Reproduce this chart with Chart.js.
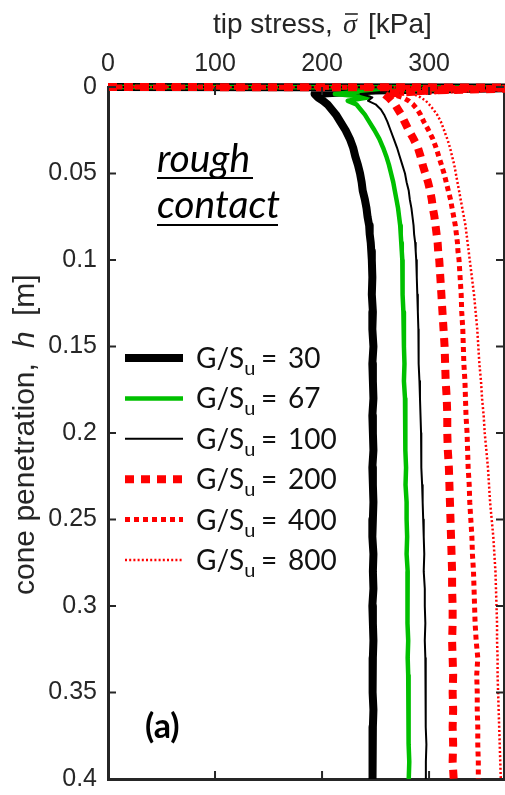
<!DOCTYPE html>
<html>
<head>
<meta charset="utf-8">
<script src="https://cdn.jsdelivr.net/npm/chart.js@4.4.1/dist/chart.umd.min.js"></script>
<style>
  html, body { margin: 0; padding: 0; background: #ffffff; }
  canvas { display: block; }
</style>
</head>
<body>
<canvas id="tipChart" width="505" height="795" style="width:505px;height:795px"></canvas>
<script>
// Cone penetration h [m] at which tip stress was sampled
const depth = [0, 0.0003, 0.002, 0.004, 0.006, 0.008, 0.010, 0.013, 0.016, 0.020,
  0.025, 0.030, 0.035, 0.040, 0.045, 0.050, 0.055, 0.060, 0.065, 0.070,
  0.075, 0.080, 0.085, 0.090, 0.095, 0.100,
  0.11, 0.12, 0.13, 0.14, 0.15, 0.16, 0.17, 0.18, 0.19, 0.20,
  0.21, 0.22, 0.23, 0.24, 0.25, 0.26, 0.27, 0.28, 0.29, 0.30,
  0.31, 0.32, 0.33, 0.34, 0.35, 0.36, 0.37, 0.38, 0.39, 0.40];

// Tip stress [kPa] for each stiffness ratio G/Su
const stressG30 = [0, 420, 250, 193, 196, 201, 205, 209, 213, 217,
  222, 226, 229, 231, 233.5, 235.5, 237, 238, 240, 241.5,
  242.5, 244, 244.5, 245.5, 246, 246.5,
  247, 246.5, 247.5, 247, 248, 247, 247.5, 248, 247, 247.5,
  248, 247, 247.5, 248, 247.5, 247, 248, 247.5, 248, 247,
  247.5, 248, 247.5, 247, 247.5, 248, 247.5, 247, 247.5, 247];
const stressG67 = [0, 420, 245, 212, 244, 224, 232, 236, 240, 244,
  249, 253.5, 257, 260, 262.5, 264.5, 266.5, 268, 269.5, 271,
  272, 273, 273.5, 274, 274.5, 275,
  275.5, 275, 276, 276.5, 276.5, 277, 276.5, 277.5, 277.5, 278,
  278, 278.5, 278, 279, 279, 279.5, 279, 280, 279.5, 280,
  280, 280.5, 280, 280.5, 281, 280.5, 281, 281, 281.5, 281];
const stressG100 = [0, 420, 270, 236, 247, 243, 250, 255, 258, 261,
  264, 267, 270, 272.5, 275, 277.5, 279, 281, 282, 283.5,
  284.5, 285.5, 286, 287, 287.5, 288,
  288.5, 289, 289.5, 290, 290.5, 290, 291, 291.5, 292, 292.5,
  293, 292.5, 293.5, 294, 294.5, 295, 295.5, 295, 296, 296,
  296.5, 296, 296.5, 297, 296.5, 297, 297, 297.5, 297, 297];
const stressG200 = [0, 420, 300, 258, 262, 265, 268, 271, 274, 277,
  281, 285.5, 289.5, 292, 294, 296.5, 299, 301, 302.5, 303.5,
  305, 306, 307, 308, 308.5, 309.5,
  310.5, 311.5, 312.5, 313.5, 314.5, 315, 315.5, 316.5, 317, 317,
  317.5, 318.5, 319, 319.5, 320, 320.5, 321, 321.5, 321.5, 322,
  322, 321.5, 322, 322.5, 322, 322.5, 322, 322.5, 322, 323];
const stressG400 = [0, 420, 330, 265, 275, 281, 285, 289, 292, 295,
  299.5, 303.5, 306.5, 309, 311.5, 314, 316, 318, 320, 321.5,
  323, 324.5, 325.5, 326.5, 327, 328,
  329, 330, 330.5, 331.5, 332, 332.5, 333.5, 334, 334.5, 335.5,
  336, 336.5, 337.5, 338, 339, 340, 340.5, 341.5, 342, 342.5,
  343, 344, 345.5, 344.5, 345, 345, 345.5, 345.5, 346, 346];
const stressG800 = [0, 420, 360, 285, 292, 297, 300, 304, 307.5, 311,
  314, 317, 319.5, 321.5, 323.5, 325, 326.5, 328, 329.5, 331,
  332.5, 334, 335, 336, 337, 338,
  340, 342, 343.5, 345, 346, 347, 348.5, 349.5, 351, 352,
  353.5, 355, 356, 357, 358.5, 360, 361, 362, 362.5, 363,
  363.5, 363.5, 364, 364, 364.5, 365, 365.5, 366, 366.5, 367];

const ratios = [30, 67, 100, 200, 400, 800];
const stressSeries = [stressG30, stressG67, stressG100, stressG200, stressG400, stressG800];

// Axis ticks
const stressTicks = [0, 100, 200, 300];
const stressTickLabels = ['0', '100', '200', '300'];
const depthTicks = [0, 0.05, 0.1, 0.15, 0.2, 0.25, 0.3, 0.35, 0.4];
const depthTickLabels = ['0', '0.05', '0.1', '0.15', '0.2', '0.25', '0.3', '0.35', '0.4'];

// Line styles per series
const lineColors = ['#000000', '#00c000', '#000000', '#ff0000', '#ff0000', '#ff0000'];
const lineWidths = [8, 4.5, 2, 8, 5, 2.5];
const lineDashes = [[], [], [], [9, 7], [5, 4], [2, 2.2]];

const AXIS_COLOR = '#262626';
const TICK_FONT = 'Liberation Sans';
const NOTE_FONT = 'Lato';

const datasets = ratios.map((r, i) => ({
  label: 'G/Su = ' + r,
  data: depth.map((h, k) => ({ x: stressSeries[i][k], y: h })),
  showLine: true,
  borderColor: lineColors[i],
  backgroundColor: lineColors[i],
  borderWidth: lineWidths[i],
  borderDash: lineDashes[i],
  borderCapStyle: 'butt',
  borderJoinStyle: 'round',
  pointRadius: 0,
  tension: 0,
  fill: false,
  clip: { left: 0, top: 6, right: 6, bottom: 0 },
  order: ratios.length - i
}));

// Inward tick marks on all four sides of the box
const boxTicks = {
  id: 'boxTicks',
  afterDatasetsDraw(chart) {
    const { ctx, chartArea: a, scales } = chart;
    const TL = 8;
    ctx.save();
    ctx.strokeStyle = AXIS_COLOR;
    ctx.lineWidth = 2;
    ctx.setLineDash([]);
    ctx.beginPath();
    stressTicks.forEach(v => {
      const px = scales.x.getPixelForValue(v);
      ctx.moveTo(px, a.top); ctx.lineTo(px, a.top + TL);
      ctx.moveTo(px, a.bottom); ctx.lineTo(px, a.bottom - TL);
    });
    depthTicks.forEach(v => {
      const py = scales.y.getPixelForValue(v);
      ctx.moveTo(a.left, py); ctx.lineTo(a.left + TL, py);
      ctx.moveTo(a.right, py); ctx.lineTo(a.right - TL, py);
    });
    ctx.stroke();
    ctx.restore();
  }
};

// Axis titles, series key and annotations
const annotations = {
  id: 'annotations',
  afterDraw(chart) {
    const ctx = chart.ctx;
    ctx.save();
    ctx.fillStyle = AXIS_COLOR;
    ctx.textAlign = 'left';
    ctx.textBaseline = 'alphabetic';

    // top axis title
    ctx.font = '28px "' + TICK_FONT + '"';
    ctx.fillText('tip stress,', 213, 33);
    ctx.font = 'italic 28px "Liberation Serif"';
    ctx.fillText('\u03C3', 343, 33);
    const sw = ctx.measureText('\u03C3').width;
    ctx.strokeStyle = AXIS_COLOR;
    ctx.lineWidth = 1.6;
    ctx.beginPath();
    ctx.moveTo(345, 14); ctx.lineTo(343 + sw + 1, 14);
    ctx.stroke();
    ctx.font = '28px "' + TICK_FONT + '"';
    ctx.fillText('[kPa]', 368, 33);

    // left axis title (rotated)
    ctx.save();
    ctx.translate(34, 0);
    ctx.rotate(-Math.PI / 2);
    ctx.font = '30px "' + TICK_FONT + '"';
    ctx.fillText('cone penetration,', -595, 0);
    ctx.font = 'italic 30px "' + TICK_FONT + '"';
    ctx.fillText('h', -348, 0);
    ctx.font = '30px "' + TICK_FONT + '"';
    ctx.fillText('[m]', -316, 0);
    ctx.restore();

    // series key
    ratios.forEach((r, i) => {
      const yy = 358 + i * 40.4;
      ctx.strokeStyle = lineColors[i];
      ctx.lineWidth = lineWidths[i];
      ctx.setLineDash(lineDashes[i]);
      ctx.lineCap = 'butt';
      ctx.beginPath();
      ctx.moveTo(125, yy); ctx.lineTo(183, yy);
      ctx.stroke();
      ctx.setLineDash([]);
      ctx.fillStyle = '#111111';
      const base = yy + 10;
      ctx.font = '28px "' + NOTE_FONT + '"';
      ctx.fillText('G/S', 196, base);
      const gw = ctx.measureText('G/S').width;
      ctx.font = '20px "' + NOTE_FONT + '"';
      ctx.fillText('u', 196 + gw, base + 7);
      ctx.font = '28px "' + NOTE_FONT + '"';
      ctx.fillText('=', 261, base);
      ctx.fillText(String(r), 288, base);
    });

    // contact condition
    ctx.fillStyle = '#000000';
    ctx.strokeStyle = '#000000';
    ctx.lineWidth = 2;
    ctx.font = 'italic 39px "' + NOTE_FONT + '"';
    ctx.fillText('rough', 157, 172);
    ctx.beginPath(); ctx.moveTo(157, 178); ctx.lineTo(253, 178); ctx.stroke();
    ctx.fillText('contact', 157, 218);
    ctx.beginPath(); ctx.moveTo(157, 225); ctx.lineTo(278, 225); ctx.stroke();

    // panel tag
    ctx.font = 'bold 34px "' + NOTE_FONT + '"';
    ctx.fillText('(a)', 145, 738);

    ctx.restore();
  }
};

const hiddenAxis = (pos, min, max) => ({
  type: 'linear',
  position: pos,
  min: min,
  max: max,
  ticks: { display: false },
  grid: { display: true, drawOnChartArea: false, drawTicks: false },
  border: { display: true, color: AXIS_COLOR, width: 3 }
});

// keep the plot box at fixed margins: no extra room for end labels
const noOverflow = s => {
  s.paddingTop = 0; s.paddingBottom = 0;
  s.paddingLeft = 0; s.paddingRight = 0;
};

new Chart(document.getElementById('tipChart'), {
  type: 'scatter',
  data: { datasets },
  options: {
    responsive: false,
    animation: false,
    events: [],
    layout: { padding: 0, autoPadding: false },
    plugins: { legend: { display: false }, tooltip: { enabled: false } },
    scales: {
      x: {
        type: 'linear',
        position: 'top',
        min: 0,
        max: 370,
        afterBuildTicks: s => { s.ticks = stressTicks.map(v => ({ value: v })); },
        afterFit: s => { s.height = 87; noOverflow(s); },
        ticks: {
          padding: 8,
          color: AXIS_COLOR,
          font: { family: TICK_FONT, size: 25 },
          maxRotation: 0,
          callback: (v) => stressTickLabels[stressTicks.indexOf(v)]
        },
        grid: { display: true, drawOnChartArea: false, drawTicks: false },
        border: { display: true, color: AXIS_COLOR, width: 3 }
      },
      y: {
        type: 'linear',
        position: 'left',
        reverse: true,
        min: 0,
        max: 0.4,
        afterBuildTicks: s => { s.ticks = depthTicks.map(v => ({ value: v })); },
        afterFit: s => { s.width = 108; noOverflow(s); },
        ticks: {
          padding: 11,
          color: AXIS_COLOR,
          font: { family: TICK_FONT, size: 25 },
          callback: (v) => depthTickLabels[depthTicks.findIndex(t => Math.abs(t - v) < 1e-9)]
        },
        grid: { display: true, drawOnChartArea: false, drawTicks: false },
        border: { display: true, color: AXIS_COLOR, width: 3 }
      },
      x2: Object.assign(hiddenAxis('bottom', 0, 370), { afterFit: s => { s.height = 16; noOverflow(s); } }),
      y2: Object.assign(hiddenAxis('right', 0, 0.4), { afterFit: s => { s.width = 1; noOverflow(s); } })
    }
  },
  plugins: [boxTicks, annotations]
});
</script>
</body>
</html>
